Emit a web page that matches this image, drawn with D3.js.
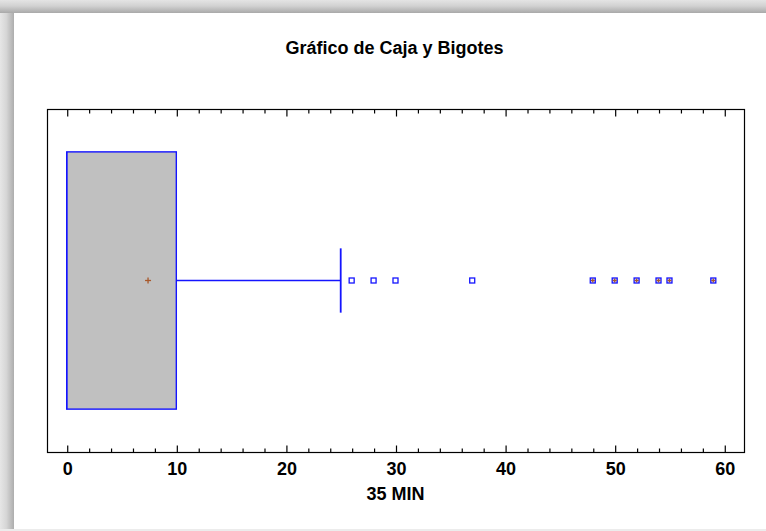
<!DOCTYPE html>
<html>
<head>
<meta charset="utf-8">
<script src="https://cdn.jsdelivr.net/npm/d3@7"></script>
<style>
  html, body { margin: 0; padding: 0; background: #fff; }
  svg { display: block; }
  text { font-family: "Liberation Sans", Arial, sans-serif; font-weight: bold; fill: #000; }
</style>
</head>
<body>
<svg id="chart" width="766" height="531"></svg>
<script>
// Five-number summary and mean of the variable "35 MIN"
const variableName = "35 MIN";
const chartTitle = "Gráfico de Caja y Bigotes";
const boxStats = { min: 0, q1: 0, median: 0, q3: 10, whiskerHigh: 25 };
const meanValue = 7.42;
// Points beyond the upper fence (q3 + 1.5·IQR); those beyond q3 + 3·IQR are far outside
const outsidePoints = [26, 28, 30, 37];
const farOutsidePoints = [48, 50, 52, 54, 55, 59];
const majorTicks = [0, 10, 20, 30, 40, 50, 60];
const minorTicks = d3.range(0, 62, 2).filter(v => v % 10 !== 0);
const axisDomain = [-1.8, 61.8];

const W = 766, H = 531;
const frame = { left: 47, right: 744, top: 109, bottom: 452 };
const svg = d3.select("#chart");

// soft drop-shadow band along the top and left edges
const defs = svg.append("defs");
const gTop = defs.append("linearGradient").attr("id", "shTop").attr("x1", 0).attr("y1", 0).attr("x2", 0).attr("y2", 1);
gTop.append("stop").attr("offset", "0%").attr("stop-color", "#e4e4e4");
gTop.append("stop").attr("offset", "45%").attr("stop-color", "#d2d2d2");
gTop.append("stop").attr("offset", "100%").attr("stop-color", "#a9a9a9");
const gLeft = defs.append("linearGradient").attr("id", "shLeft").attr("x1", 0).attr("y1", 0).attr("x2", 1).attr("y2", 0);
gLeft.append("stop").attr("offset", "0%").attr("stop-color", "#e6e6e6");
gLeft.append("stop").attr("offset", "45%").attr("stop-color", "#d6d6d6");
gLeft.append("stop").attr("offset", "100%").attr("stop-color", "#adadad");
svg.append("rect").attr("x", 0).attr("y", 0).attr("width", 14).attr("height", H).attr("fill", "url(#shLeft)");
svg.append("rect").attr("x", 0).attr("y", 0).attr("width", W).attr("height", 13).attr("fill", "url(#shTop)");
svg.append("rect").attr("x", 0).attr("y", H - 2).attr("width", W).attr("height", 2).attr("fill", "#ececec");

const x = d3.scaleLinear().domain(axisDomain).range([frame.left, frame.right]);
const y = d3.scaleLinear().domain([0, 1]).range([frame.bottom, frame.top]);
const yc = y(0.5);
const boxH = (frame.bottom - frame.top) * 0.75;
const capH = boxH * 0.25;

// title
svg.append("text").attr("x", (frame.left + frame.right) / 2 - 1).attr("y", 54)
  .attr("text-anchor", "middle").attr("font-size", 18).text(chartTitle);

// plot frame
svg.append("rect").attr("x", frame.left + 0.5).attr("y", frame.top + 0.5)
  .attr("width", frame.right - frame.left).attr("height", frame.bottom - frame.top)
  .attr("fill", "none").attr("stroke", "#000").attr("stroke-width", 1.2);

// inward ticks on the bottom and top edges
const bottomAxis = d3.axisBottom(x).tickValues(majorTicks).tickSize(-7).tickPadding(10).tickFormat(d3.format("d"));
const gB = svg.append("g").attr("transform", `translate(0.5,${frame.bottom + 0.5})`).call(bottomAxis);
gB.select(".domain").remove();
gB.selectAll("line").attr("stroke", "#000").attr("stroke-width", 1.2);
gB.selectAll("text").attr("font-size", 18).attr("fill", "#000").attr("dy", "0.71em");
svg.append("g").attr("transform", `translate(0.5,${frame.bottom + 0.5})`)
  .call(d3.axisBottom(x).tickValues(minorTicks).tickSize(-4).tickFormat(""))
  .call(g => g.select(".domain").remove())
  .selectAll("line").attr("stroke", "#000").attr("stroke-width", 1.2);
svg.append("g").attr("transform", `translate(0.5,${frame.top + 0.5})`)
  .call(d3.axisTop(x).tickValues(majorTicks).tickSize(-7).tickFormat(""))
  .call(g => g.select(".domain").remove())
  .selectAll("line").attr("stroke", "#000").attr("stroke-width", 1.2);
svg.append("g").attr("transform", `translate(0.5,${frame.top + 0.5})`)
  .call(d3.axisTop(x).tickValues(minorTicks).tickSize(-4).tickFormat(""))
  .call(g => g.select(".domain").remove())
  .selectAll("line").attr("stroke", "#000").attr("stroke-width", 1.2);

// axis title
svg.append("text").attr("x", (frame.left + frame.right) / 2).attr("y", 500)
  .attr("text-anchor", "middle").attr("font-size", 18).text(variableName);

const blue = "#1414ff";
// box
svg.append("rect").attr("x", x(boxStats.q1)).attr("y", yc - boxH / 2)
  .attr("width", x(boxStats.q3) - x(boxStats.q1)).attr("height", boxH)
  .attr("fill", "#c0c0c0").attr("stroke", blue).attr("stroke-width", 1.4);
// median
svg.append("line").attr("x1", x(boxStats.median)).attr("x2", x(boxStats.median))
  .attr("y1", yc - boxH / 2).attr("y2", yc + boxH / 2).attr("stroke", blue).attr("stroke-width", 1.4);
// whiskers
svg.append("line").attr("x1", x(boxStats.q3)).attr("x2", x(boxStats.whiskerHigh))
  .attr("y1", yc).attr("y2", yc).attr("stroke", blue).attr("stroke-width", 1.4);
svg.append("line").attr("x1", x(boxStats.whiskerHigh)).attr("x2", x(boxStats.whiskerHigh))
  .attr("y1", yc - capH / 2).attr("y2", yc + capH / 2).attr("stroke", blue).attr("stroke-width", 1.8);
svg.append("line").attr("x1", x(boxStats.min)).attr("x2", x(boxStats.q1))
  .attr("y1", yc).attr("y2", yc).attr("stroke", blue).attr("stroke-width", 1.4);

// mean marker
const brown = "#a8582a";
const plus = (g, cx, s) => {
  g.append("line").attr("x1", cx - s).attr("x2", cx + s).attr("y1", yc).attr("y2", yc).attr("stroke", brown).attr("stroke-width", 1.3);
  g.append("line").attr("x1", cx).attr("x2", cx).attr("y1", yc - s).attr("y2", yc + s).attr("stroke", brown).attr("stroke-width", 1.3);
};
plus(svg.append("g"), x(meanValue), 3);

// outside points
svg.append("g").selectAll("rect").data(outsidePoints).join("rect")
  .attr("x", d => x(d) - 2.5).attr("y", yc - 2.5).attr("width", 5).attr("height", 5)
  .attr("fill", "#fff").attr("stroke", blue).attr("stroke-width", 1.3);
const far = svg.append("g");
farOutsidePoints.forEach(v => {
  far.append("rect").attr("x", x(v) - 2.5).attr("y", yc - 2.5).attr("width", 5).attr("height", 5)
    .attr("fill", "#d0d0ff").attr("stroke", blue).attr("stroke-width", 1.3);
  plus(far, x(v), 2);
});
</script>
</body>
</html>
